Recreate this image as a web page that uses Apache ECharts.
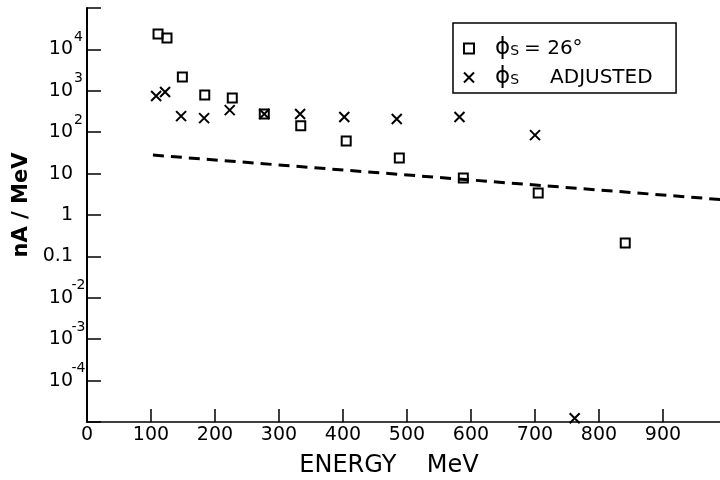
<!DOCTYPE html>
<html>
<head>
<meta charset="utf-8">
<script src="https://cdn.jsdelivr.net/npm/echarts@6/dist/echarts.min.js"></script>
<style>html,body{margin:0;padding:0;background:#fff;}#chart{width:720px;height:480px;}</style>
</head>
<body>
<div id="chart"></div>
<script>
// ---- data ----
const seriesNames = ['ϕS = 26°', 'ϕS ADJUSTED'];
const sq26X = [111, 125, 149, 184, 227, 277, 334, 405, 488, 588, 705, 841];
const sq26Y = [23500, 18800, 2150, 790, 670, 274, 144, 61, 23.7, 7.8, 3.4, 0.21];
const adjX = [108, 122, 147, 183, 223, 277, 333, 402, 484, 582, 700, 762];
const adjY = [747, 933, 245, 219, 342, 274, 274, 232, 208, 232, 85, 1.23e-5];
const lineX = [103, 1000];
const lineY = [28, 2.3];
const xTicks = [0, 100, 200, 300, 400, 500, 600, 700, 800, 900];
const yTickExp = [-4, -3, -2, -1, 0, 1, 2, 3, 4];
const yTickBase = ['10', '10', '10', '0.1', '1', '10', '10', '10', '10'];
const yTickSup = ['-4', '-3', '-2', '', '', '', '2', '3', '4'];
const xTitle = 'ENERGY    MeV';
const yTitle = 'nA / MeV';

const FONT = 'DejaVu Sans';
const zip = (xs, ys) => xs.map((x, i) => [x, ys[i]]);

const chart = echarts.init(document.getElementById('chart'), null, {renderer: 'canvas'});
chart.setOption({
  animation: false,
  backgroundColor: '#fff',
  grid: {left: 87, top: 8, width: 640, height: 414, containLabel: false, outerBoundsMode: 'none'},
  legend: {
    data: seriesNames,
    orient: 'vertical',
    left: 453, top: 23,
    itemWidth: 10, itemHeight: 10, itemGap: 6,
    padding: [14, 13, 4, 10],
    borderColor: '#000', borderWidth: 1.5,
    textStyle: {
      color: '#000', fontFamily: FONT, fontSize: 20, lineHeight: 20,
      rich: {
        phi: {fontFamily: FONT, fontSize: 23, lineHeight: 20, color: '#000', padding: [0, 0, 0, 16]},
        sub: {fontFamily: FONT, fontSize: 14, lineHeight: 14, color: '#000', verticalAlign: 'bottom'},
        t1: {fontFamily: FONT, fontSize: 20, lineHeight: 20, color: '#000', padding: [0, 0, 0, 5]},
        t2: {fontFamily: FONT, fontSize: 20, lineHeight: 20, color: '#000', padding: [0, 0, 0, 31], width: 113}
      }
    },
    formatter: function (name) {
      if (name === seriesNames[0]) return '{phi|ϕ}{sub|S}{t1|= 26°}';
      return '{phi|ϕ}{sub|S}{t2|ADJUSTED}';
    }
  },
  xAxis: {
    type: 'value', min: 0, max: 1000, interval: 100,
    name: xTitle, nameLocation: 'middle', nameGap: 32,
    nameTextStyle: {fontFamily: FONT, fontSize: 24, color: '#000', padding: [0, 36, 0, 0]},
    axisLine: {show: true, lineStyle: {color: '#000', width: 1.6}},
    axisTick: {show: true, inside: true, length: 13, lineStyle: {color: '#000', width: 1.5}},
    splitLine: {show: false},
    axisLabel: {
      margin: 4, color: '#000', fontFamily: FONT, fontSize: 19,
      formatter: v => xTicks.indexOf(v) >= 0 ? String(v) : ''
    }
  },
  yAxis: {
    type: 'log', logBase: 10, min: 1e-5, max: 1e5, interval: 1,
    name: yTitle, nameLocation: 'middle', nameGap: 50, nameRotate: 90,
    nameTextStyle: {fontFamily: FONT, fontSize: 21, fontWeight: 'bold', color: '#000', padding: [0, 0, 0, 20]},
    axisLine: {show: true, lineStyle: {color: '#000', width: 2}},
    axisTick: {show: true, inside: true, length: 14, lineStyle: {color: '#000', width: 1.5}},
    splitLine: {show: false},
    minorTick: {show: false},
    axisLabel: {
      margin: 3, color: '#000', fontFamily: FONT,
      formatter: function (v) {
        const e = Math.round(Math.log10(v));
        const i = yTickExp.indexOf(e);
        if (i < 0) return '';
        return '{b|' + yTickBase[i] + '}{s|' + (yTickSup[i] || ' ') + '}';
      },
      rich: {
        b: {fontFamily: FONT, fontSize: 19, lineHeight: 19, color: '#000', verticalAlign: 'middle'},
        s: {fontFamily: FONT, fontSize: 14, lineHeight: 14, color: '#000', verticalAlign: 'middle', padding: [0, 0, 24, 0], width: 11, align: 'left'}
      }
    }
  },
  series: [
    {
      name: seriesNames[0], type: 'scatter',
      data: zip(sq26X, sq26Y),
      symbol: 'rect', symbolSize: 9,
      itemStyle: {color: 'rgba(0,0,0,0)', borderColor: '#000', borderWidth: 2, opacity: 1},
      z: 3
    },
    {
      name: seriesNames[1], type: 'scatter',
      data: zip(adjX, adjY),
      symbol: 'path://M0,0L10,10M10,0L0,10', symbolSize: 10,
      itemStyle: {color: 'rgba(0,0,0,0)', borderColor: '#000', borderWidth: 2, opacity: 1},
      z: 3
    },
    {
      name: 'fit', type: 'line',
      data: zip(lineX, lineY),
      showSymbol: false, symbol: 'none',
      lineStyle: {color: '#000', width: 3, type: [11, 7], cap: 'butt'},
      z: 2
    }
  ]
});
</script>
</body>
</html>
